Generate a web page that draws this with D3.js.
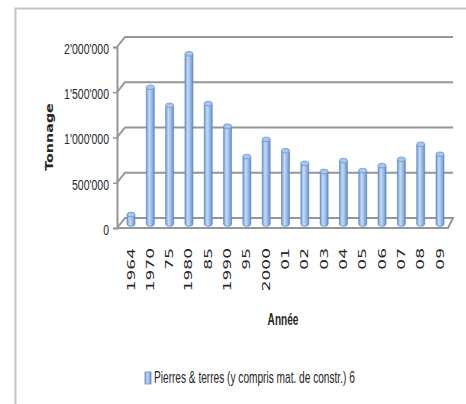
<!DOCTYPE html>
<html lang="en">
<head>
<meta charset="utf-8">
<style>
  body { margin: 0; background: white; }
  svg { display: block; background: white; }
  .ylab text { font-family: 'Liberation Sans', Arial, sans-serif; font-size: 15px; fill: #262626; }
  .xlab { font-family: 'DejaVu Sans', Verdana, sans-serif; font-size: 10px; fill: #262626; }
  .grid { fill: none; stroke: #969696; stroke-width: 2; }
</style>
</head>
<body>
<svg width="466" height="404"></svg>
<script src="https://cdnjs.cloudflare.com/ajax/libs/d3/7.8.5/d3.min.js"></script>
<script>
var years = ["1964", "1970", "75", "1980", "85", "1990", "95", "2000", "01", "02", "03", "04", "05", "06", "07", "08", "09"];
var tonnage = [105000, 1510000, 1310000, 1880000, 1330000, 1080000, 745000, 935000, 810000, 670000, 580000, 700000, 590000, 645000, 715000, 880000, 770000];
var yTicks = [0, 500000, 1000000, 1500000, 2000000];
var seriesName = "Pierres & terres (y compris mat. de constr.) 6";

var svg = d3.select("svg");

// squeeze / stretch text along its own direction
function squeeze(sel, k) {
  sel.each(function() {
    var w = this.getComputedTextLength();
    d3.select(this).attr("textLength", w * k).attr("lengthAdjust", "spacingAndGlyphs");
  });
}

// outer frame
svg.append("path")
  .attr("d", "M15.5,404V8.5H466")
  .attr("fill", "none")
  .attr("stroke", "#c4c4c4")
  .attr("stroke-width", 2);

var depthX = 8, depthY = 10;

var x = d3.scalePoint().domain(years).range([131, 440]);
var yBack = d3.scaleLinear().domain([0, 2000000]).range([218, 37]);
var yFront = d3.scaleLinear().domain([0, 2000000]).range([228, 47]);
var yBar = d3.scaleLinear().domain([0, 2000000]).range([224, 43]);

var defs = svg.append("defs");
var grad = defs.append("linearGradient").attr("id", "cyl").attr("x1", 0).attr("x2", 1).attr("y1", 0).attr("y2", 0);
grad.append("stop").attr("offset", "0%").attr("stop-color", "#6b96d2");
grad.append("stop").attr("offset", "35%").attr("stop-color", "#c6dbf5");
grad.append("stop").attr("offset", "65%").attr("stop-color", "#9cbdea");
grad.append("stop").attr("offset", "100%").attr("stop-color", "#628dca");

// floor
var x0 = 117, x1 = 453;
svg.append("path")
  .attr("class", "grid")
  .attr("fill", "#fafafa")
  .attr("d", "M" + x0 + "," + yFront(0) + "L" + (x0 + depthX) + "," + yBack(0) +
             "L" + x1 + "," + yBack(0) + "L" + (x1 - 5) + "," + yFront(0) + "Z");

// back-wall gridlines with their slanted side part
svg.append("g").selectAll("path")
  .data(yTicks.filter(function(d) { return d > 0; }))
  .enter().append("path")
    .attr("class", "grid")
    .attr("d", function(d) {
      return "M" + x0 + "," + yFront(d) + "L" + (x0 + depthX) + "," + yBack(d) + "H" + x1;
    });

// front value axis
var fmt = d3.format(",");
var yAxis = d3.axisLeft(yFront)
  .tickValues(yTicks)
  .tickSize(4)
  .tickPadding(4)
  .tickFormat(function(d) { return fmt(d).replace(/,/g, "'"); });

var ag = svg.append("g")
  .attr("class", "ylab")
  .attr("transform", "translate(" + x0 + ",0)")
  .call(yAxis);
ag.select(".domain").attr("stroke", "#969696").attr("stroke-width", 2);
ag.selectAll(".tick line").attr("stroke", "#969696").attr("stroke-width", 1.5);
ag.selectAll(".tick text").attr("dy", "0.42em").call(squeeze, 0.7);

// cylinders
var bars = svg.append("g").selectAll("g")
  .data(tonnage)
  .enter().append("g")
    .attr("transform", function(d, i) { return "translate(" + x(years[i]) + ",0)"; });

var rx = 4, ry = 2.4;
bars.append("ellipse")
  .attr("cx", 0).attr("cy", yBar(0))
  .attr("rx", rx).attr("ry", ry)
  .attr("fill", "url(#cyl)").attr("stroke", "#5b86c2").attr("stroke-width", 0.6);
bars.append("rect")
  .attr("x", -rx).attr("width", rx * 2)
  .attr("y", function(d) { return yBar(d); })
  .attr("height", function(d) { return yBar(0) - yBar(d); })
  .attr("fill", "url(#cyl)");
bars.append("path")
  .attr("fill", "none").attr("stroke", "#5b86c2").attr("stroke-width", 0.6)
  .attr("d", function(d) {
    return "M" + (-rx) + "," + yBar(d) + "V" + yBar(0) + "M" + rx + "," + yBar(d) + "V" + yBar(0);
  });
bars.append("ellipse")
  .attr("cx", 0).attr("cy", function(d) { return yBar(d); })
  .attr("rx", rx).attr("ry", ry)
  .attr("fill", "#a9c6ee").attr("stroke", "#6d96d0").attr("stroke-width", 0.8);

// category labels, rotated
svg.append("g").selectAll("text")
  .data(years)
  .enter().append("text")
    .attr("class", "xlab")
    .attr("text-anchor", "end")
    .attr("transform", function(d) { return "translate(" + (x(d) + 3.5) + ",248) rotate(-90)"; })
    .text(function(d) { return d; })
    .call(squeeze, 1.7);

// axis titles
svg.append("text")
  .attr("transform", "translate(52.5,137) rotate(-90)")
  .attr("text-anchor", "middle")
  .style("font-family", "'DejaVu Sans', Verdana, sans-serif")
  .style("font-size", "11px")
  .style("font-weight", "bold")
  .attr("fill", "#262626")
  .text("Tonnage")
  .call(squeeze, 1.3);

svg.append("text")
  .attr("transform", "translate(283,325) scale(0.63,1)")
  .attr("text-anchor", "middle")
  .style("font-family", "'Liberation Sans', Arial, sans-serif")
  .style("font-size", "16px")
  .style("font-weight", "bold")
  .attr("fill", "#262626")
  .text("Année");

// legend
var lg = svg.append("g");
lg.append("rect")
  .attr("x", 145).attr("y", 372).attr("width", 6).attr("height", 12)
  .attr("fill", "url(#cyl)").attr("stroke", "#6d8fc0").attr("stroke-width", 0.8);
var lt = lg.append("text")
  .style("font-family", "'Liberation Sans', Arial, sans-serif")
  .style("font-size", "16px")
  .attr("fill", "#262626")
  .text(seriesName);
var natural = lt.node().getComputedTextLength();
lt.attr("transform", "translate(154,383) scale(" + (201 / natural) + ",1)");
</script>
</body>
</html>
